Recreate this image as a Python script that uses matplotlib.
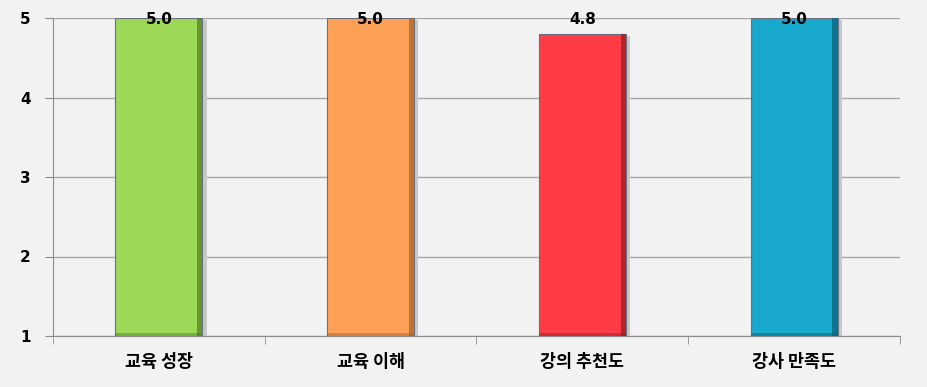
import numpy as np
import matplotlib.pyplot as plt

categories = ['교육 성장', '교육 이해', '강의 추천도', '강사 만족도']
scores = [5.0, 5.0, 4.8, 5.0]
bar_colors = ['#9bd957', '#ffa057', '#ff3b45', '#17a8cc']
edge_colors = ['#4e7a27', '#a0612b', '#8c1f27', '#0d5f73']
y_ticks = [1, 2, 3, 4, 5]

plt.rcParams['font.family'] = ['Noto Sans CJK KR', 'DejaVu Sans']

fig = plt.figure(figsize=(9.27, 3.87), dpi=100, facecolor='#f2f2f2')
ax = fig.add_axes([53 / 927, 51 / 387, 847 / 927, 318 / 387])
ax.set_facecolor('#f2f2f2')

x = np.arange(len(categories))
width = 0.41
base = 1
heights = np.array(scores) - base

# soft shadow behind bars
ax.bar(x + 0.02, heights, width, bottom=base - 0.03,
       color='#c8c8c8', zorder=2)
ax.bar(x, heights, width, bottom=base,
       color=bar_colors, edgecolor='#6b7080', linewidth=0.8, zorder=3)
# darker bevel on the right side and bottom
ax.bar(x + width / 2 - 0.012, heights, 0.024, bottom=base,
       color=edge_colors, alpha=0.7, zorder=4, linewidth=0)
ax.bar(x, 0.04, width, bottom=base, color=edge_colors, alpha=0.45,
       zorder=4, linewidth=0)

for xi, v in zip(x, scores):
    ax.text(xi, min(v + 0.18, 4.98), '%.1f' % v, ha='center', va='center',
            fontsize=11, fontweight='bold', family='DejaVu Sans', zorder=5)

ax.set_xlim(-0.5, len(categories) - 0.5)
ax.set_ylim(1, 5)
ax.set_yticks(y_ticks)
ax.set_yticklabels([str(t) for t in y_ticks], fontsize=11, fontweight='bold',
                   family='DejaVu Sans')
ax.set_xticks(x)
ax.set_xticklabels(categories, fontsize=12.5, fontweight='bold')
ax.set_xticks(np.arange(len(categories) + 1) - 0.5, minor=True)
ax.tick_params(axis='x', which='major', length=0, pad=12)
ax.tick_params(axis='x', which='minor', length=6, color='#8c8c8c')
ax.tick_params(axis='y', length=6, color='#8c8c8c', pad=10)

ax.grid(axis='y', color='#a6a6a6', linewidth=1, zorder=0)
ax.set_axisbelow(True)
for s in ['top', 'right']:
    ax.spines[s].set_visible(False)
for s in ['left', 'bottom']:
    ax.spines[s].set_color('#8c8c8c')

fig.savefig('out.png', dpi=100, facecolor=fig.get_facecolor())
